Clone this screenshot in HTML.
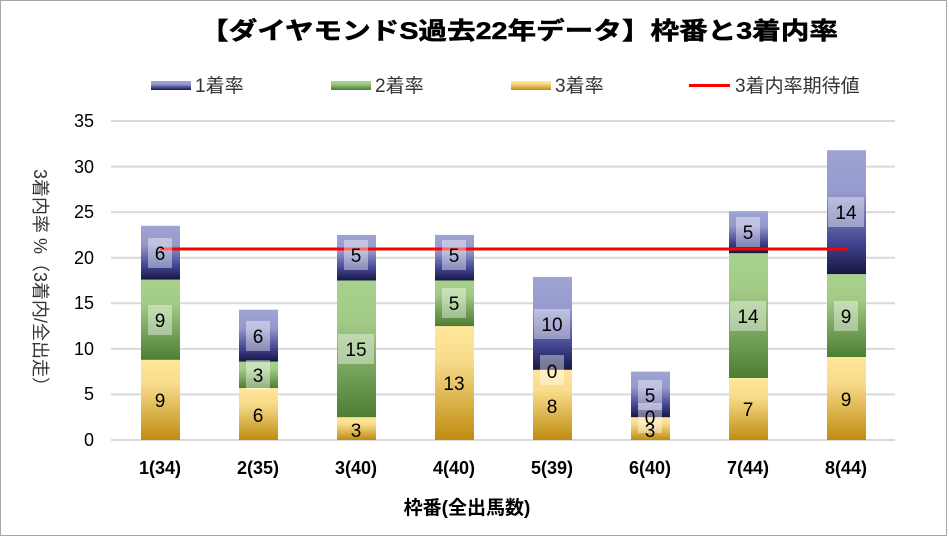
<!DOCTYPE html>
<html><head><meta charset="utf-8"><style>
html,body{margin:0;padding:0;background:#fff}
svg{display:block;font-family:"Liberation Sans","Noto Sans CJK JP",sans-serif}
</style></head><body>
<svg width="949" height="537" viewBox="0 0 949 537" xmlns="http://www.w3.org/2000/svg">
<defs>
<linearGradient id="gb" x1="0" y1="0" x2="0" y2="1"><stop offset="0" stop-color="#a0a4d4"/><stop offset="0.35" stop-color="#9599cc"/><stop offset="0.75" stop-color="#40448f"/><stop offset="1" stop-color="#161744"/></linearGradient>
<linearGradient id="gg" x1="0" y1="0" x2="0" y2="1"><stop offset="0" stop-color="#a9d18e"/><stop offset="0.3" stop-color="#a2cb87"/><stop offset="1" stop-color="#4d7d32"/></linearGradient>
<linearGradient id="gy" x1="0" y1="0" x2="0" y2="1"><stop offset="0" stop-color="#ffe699"/><stop offset="0.3" stop-color="#f8dc8c"/><stop offset="1" stop-color="#bf8c10"/></linearGradient>
</defs>
<rect x="0.5" y="0.5" width="946" height="535" fill="#fff" stroke="#a6a6a6"/>
<text x="519" y="39" text-anchor="middle" font-size="24" font-weight="bold" stroke="#000" stroke-width="0.5" textLength="638" lengthAdjust="spacingAndGlyphs">【ダイヤモンドS過去22年データ】枠番と3着内率</text>
<!-- legend -->
<rect x="151" y="81" width="40" height="9" fill="url(#gb)"/><text x="195" y="92" font-size="19" fill="#333">1着率</text>
<rect x="331" y="81" width="40" height="9" fill="url(#gg)"/><text x="375" y="92" font-size="19" fill="#333">2着率</text>
<rect x="511" y="81" width="40" height="9" fill="url(#gy)"/><text x="555" y="92" font-size="19" fill="#333">3着率</text>
<line x1="689" y1="85.5" x2="730" y2="85.5" stroke="#f00" stroke-width="3"/><text x="735" y="92" font-size="19" fill="#333">3着内率期待値</text>
<!-- grid -->
<g stroke="#d9d9d9" stroke-width="2">
<line x1="111" y1="121" x2="895" y2="121"/><line x1="111" y1="166.6" x2="895" y2="166.6"/><line x1="111" y1="212.1" x2="895" y2="212.1"/><line x1="111" y1="257.7" x2="895" y2="257.7"/><line x1="111" y1="303.3" x2="895" y2="303.3"/><line x1="111" y1="348.9" x2="895" y2="348.9"/><line x1="111" y1="394.4" x2="895" y2="394.4"/><line x1="111" y1="440" x2="895" y2="440"/>
</g>
<g font-size="18" text-anchor="end" fill="#000">
<text x="94" y="127">35</text><text x="94" y="173">30</text><text x="94" y="218">25</text><text x="94" y="264">20</text><text x="94" y="309">15</text><text x="94" y="355">10</text><text x="94" y="400">5</text><text x="94" y="446">0</text>
</g>
<text transform="translate(34,282) rotate(90)" text-anchor="middle" font-size="18" fill="#333">3着内率 %（3着内/全出走）</text>
<!-- bars -->
<g>
<rect x="141" y="359.8" width="39" height="80.2" fill="url(#gy)"/><rect x="141" y="279.6" width="39" height="80.2" fill="url(#gg)"/><rect x="141" y="225.8" width="39" height="53.8" fill="url(#gb)"/>
<rect x="239" y="388" width="39" height="52" fill="url(#gy)"/><rect x="239" y="361.6" width="39" height="26.4" fill="url(#gg)"/><rect x="239" y="309.7" width="39" height="51.9" fill="url(#gb)"/>
<rect x="337" y="417.2" width="39" height="22.8" fill="url(#gy)"/><rect x="337" y="280.5" width="39" height="136.7" fill="url(#gg)"/><rect x="337" y="234.9" width="39" height="45.6" fill="url(#gb)"/>
<rect x="435" y="326.1" width="39" height="113.9" fill="url(#gy)"/><rect x="435" y="280.5" width="39" height="45.6" fill="url(#gg)"/><rect x="435" y="234.9" width="39" height="45.6" fill="url(#gb)"/>
<rect x="533" y="369.8" width="39" height="70.2" fill="url(#gy)"/><rect x="533" y="276.9" width="39" height="92.9" fill="url(#gb)"/>
<rect x="631" y="417.2" width="39" height="22.8" fill="url(#gy)"/><rect x="631" y="371.6" width="39" height="45.6" fill="url(#gb)"/>
<rect x="729" y="378" width="39" height="62" fill="url(#gy)"/><rect x="729" y="253.2" width="39" height="124.8" fill="url(#gg)"/><rect x="729" y="211.2" width="39" height="42" fill="url(#gb)"/>
<rect x="827" y="357" width="39" height="83" fill="url(#gy)"/><rect x="827" y="274.1" width="39" height="82.9" fill="url(#gg)"/><rect x="827" y="150.2" width="39" height="123.9" fill="url(#gb)"/>
</g>
<line x1="160" y1="249" x2="847" y2="249" stroke="#f00" stroke-width="3"/>
<!-- label boxes -->
<g fill="#fff" fill-opacity="0.4">
<rect x="148" y="238" width="24" height="30"/><rect x="148" y="305" width="24" height="30"/>
<rect x="246" y="321" width="24" height="30"/><rect x="246" y="360" width="24" height="30"/>
<rect x="344" y="240" width="24" height="30"/><rect x="338" y="334" width="36" height="30"/>
<rect x="442" y="240" width="24" height="30"/><rect x="442" y="288" width="24" height="30"/>
<rect x="534" y="309" width="36" height="30"/><rect x="540" y="355" width="24" height="30"/>
<rect x="638" y="380" width="24" height="30"/><rect x="638" y="403" width="24" height="30"/>
<rect x="736" y="217" width="24" height="30"/><rect x="730" y="301" width="36" height="30"/>
<rect x="828" y="197" width="36" height="30"/><rect x="834" y="301" width="24" height="30"/>
</g>
<g font-size="19" text-anchor="middle" fill="#000">
<text x="160" y="260">6</text><text x="160" y="327">9</text><text x="160" y="407">9</text>
<text x="258" y="343">6</text><text x="258" y="382">3</text><text x="258" y="422">6</text>
<text x="356" y="262">5</text><text x="356" y="356">15</text><text x="356" y="437">3</text>
<text x="454" y="262">5</text><text x="454" y="310">5</text><text x="454" y="390">13</text>
<text x="552" y="331">10</text><text x="552" y="378">0</text><text x="552" y="413">8</text>
<text x="650" y="402">5</text><text x="650" y="424">0</text><text x="650" y="437">3</text>
<text x="748" y="239">5</text><text x="748" y="323">14</text><text x="748" y="416">7</text>
<text x="846" y="219">14</text><text x="846" y="323">9</text><text x="846" y="406">9</text>
</g>
<g font-size="18" font-weight="bold" text-anchor="middle" fill="#000">
<text x="160" y="474">1(34)</text><text x="258" y="474">2(35)</text><text x="356" y="474">3(40)</text><text x="454" y="474">4(40)</text><text x="552" y="474">5(39)</text><text x="650" y="474">6(40)</text><text x="748" y="474">7(44)</text><text x="846" y="474">8(44)</text>
</g>
<text x="467" y="514" text-anchor="middle" font-size="19" font-weight="bold">枠番(全出馬数)</text>
</svg>
</body></html>
